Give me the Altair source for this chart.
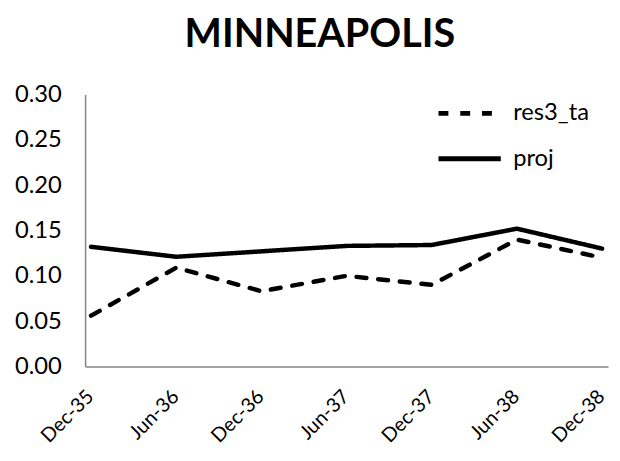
import altair as alt
import pandas as pd

dates = ["Dec-35", "Jun-36", "Dec-36", "Jun-37", "Dec-37", "Jun-38", "Dec-38"]
res3_ta = [0.056, 0.109, 0.083, 0.100, 0.090, 0.140, 0.120]
proj = [0.132, 0.121, 0.127, 0.133, 0.134, 0.152, 0.130]
series = ["res3_ta", "proj"]

rows = []
for name, vals in zip(series, [res3_ta, proj]):
    for d, v in zip(dates, vals):
        rows.append({"date": d, "value": v, "series": name})
df = pd.DataFrame(rows)

FONT = "Lato"

legend_kw = dict(title=None, orient="none", legendX=355, legendY=-15,
                 symbolType="stroke", symbolSize=3969, symbolStrokeWidth=5,
                 labelFontSize=24, labelFont=FONT, labelColor="black",
                 rowPadding=-2, labelOffset=10)

chart = alt.Chart(df).mark_line(strokeWidth=4.5, strokeCap="round", strokeJoin="round").encode(
    x=alt.X("date:N", sort=dates, title=None,
            scale=alt.Scale(type="point", padding=0.07),
            axis=alt.Axis(labelAngle=-45, labelFontSize=20, labelFont=FONT, labelColor="black",
                          domainColor="#868686", domainWidth=1.5, ticks=False, labelPadding=20,
                          labelOffset=-8, grid=False)),
    y=alt.Y("value:Q", title=None,
            scale=alt.Scale(domain=[0, 0.30], nice=False),
            axis=alt.Axis(values=[0, 0.05, 0.10, 0.15, 0.20, 0.25, 0.30], format=".2f",
                          labelFontSize=24, labelFont=FONT, labelColor="black",
                          domainColor="#868686", domainWidth=1.5, ticks=False, labelPadding=24,
                          grid=False)),
    color=alt.Color("series:N", scale=alt.Scale(domain=series, range=["black", "black"]),
                    legend=alt.Legend(**legend_kw)),
    strokeDash=alt.StrokeDash("series:N", scale=alt.Scale(domain=series, range=[[10, 12], [1, 0]]),
                              legend=alt.Legend(**legend_kw)),
).properties(
    width=529,
    height=275,
    title=alt.TitleParams("MINNEAPOLIS", fontSize=40, font=FONT, fontWeight="bold",
                          anchor="middle", frame="group", dx=-27, offset=25, color="black"),
    autosize=alt.AutoSizeParams(type="none"),
    padding={"left": 78, "top": 85, "right": 4, "bottom": 85},
).configure_view(stroke=None)

chart.save("out.html", embed_options={"renderer": "svg", "actions": False})
